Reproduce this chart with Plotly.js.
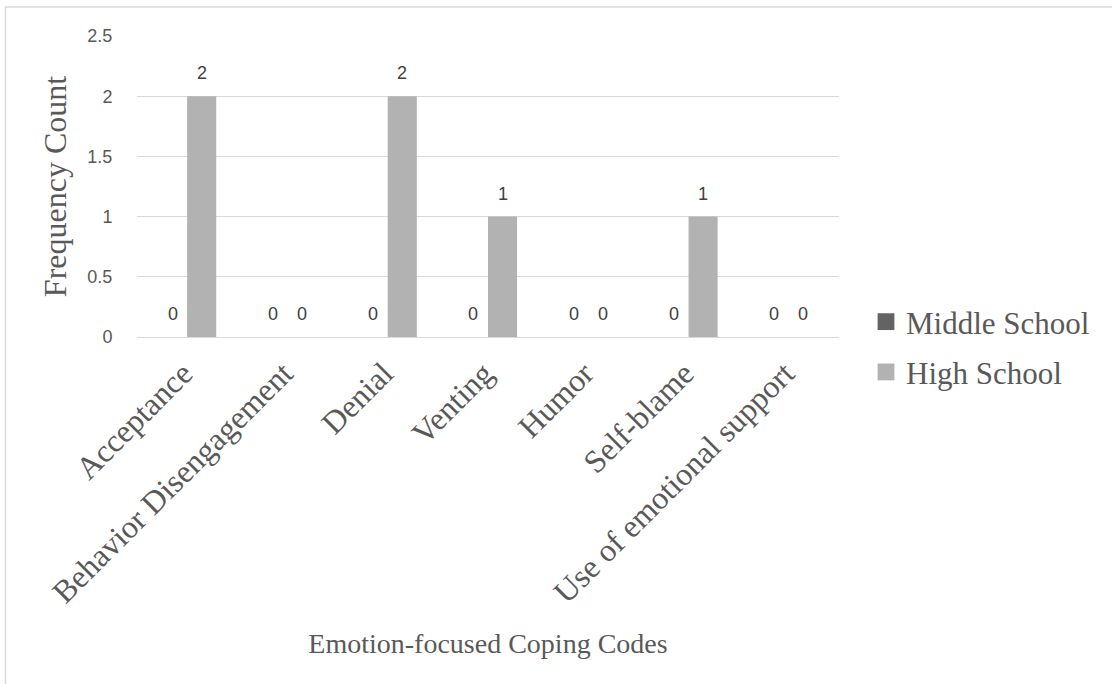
<!DOCTYPE html>
<html>
<head>
<meta charset="utf-8">
<script src="https://cdn.plot.ly/plotly-3.0.1.min.js"></script>
<style>
  html, body { margin: 0; padding: 0; background: #fff; }
  #chart { width: 1112px; height: 684px; }
</style>
</head>
<body>
<div id="chart"></div>
<script>
// Coping codes and counts per school level
const categories = [
  "Acceptance",
  "Behavior Disengagement",
  "Denial",
  "Venting",
  "Humor",
  "Self-blame",
  "Use of emotional support"
];
const middleSchool = [0, 0, 0, 0, 0, 0, 0];
const highSchool   = [2, 0, 2, 1, 0, 1, 0];
const seriesNames  = ["Middle School", "High School"];
const yTicks = [0, 0.5, 1, 1.5, 2, 2.5];

const serif = "'Liberation Serif', 'Times New Roman', serif";
const sans = "'Liberation Sans', Arial, sans-serif";
const textGrey = "#595959";

const L = 137, R = 273, T = 36, B = 347, W = 1112, H = 684;
const plotW = W - L - R, plotH = H - T - B;
const bargap = 0.42;
const halfBar = plotW / categories.length * (1 - bargap) / 4;

const traces = [
  { type: "bar", name: seriesNames[0], x: categories, y: middleSchool,
    legendgroup: "ms", marker: { color: "#636363" }, hoverinfo: "x+y" },
  { type: "bar", name: seriesNames[1], x: categories, y: highSchool,
    legendgroup: "hs", marker: { color: "#b2b2b2" }, hoverinfo: "x+y" }
];

// value labels above each bar
const annotations = [];
[middleSchool, highSchool].forEach((vals, s) => {
  vals.forEach((v, i) => {
    annotations.push({
      x: categories[i], y: v, xref: "x", yref: "y",
      text: String(v), showarrow: false,
      xshift: s === 0 ? -halfBar : halfBar,
      yanchor: "bottom", yshift: 11,
      font: { family: sans, size: 18, color: "#404040" }
    });
  });
});

// chart-area frame (left and top edges visible)
const px2x = p => (p - L) / plotW;
const px2y = p => (H - B - p) / plotH;
const shapes = [{
  type: "rect", xref: "paper", yref: "paper",
  x0: px2x(5.5), x1: px2x(W + 5), y0: px2y(H + 5), y1: px2y(7),
  line: { color: "#d9d9d9", width: 1.5 }, fillcolor: "rgba(0,0,0,0)", layer: "below"
}];

const layout = {
  width: W, height: H,
  margin: { l: L, r: R, t: T, b: B, autoexpand: false },
  paper_bgcolor: "#ffffff", plot_bgcolor: "#ffffff",
  barmode: "group", bargap: bargap, bargroupgap: 0,
  showlegend: true,
  legend: {
    x: px2x(866), y: px2y(295), xanchor: "left", yanchor: "top",
    font: { family: serif, size: 31, color: textGrey },
    itemwidth: 30, tracegroupgap: 7, bgcolor: "rgba(0,0,0,0)"
  },
  xaxis: {
    type: "category",
    tickangle: -45,
    tickfont: { family: serif, size: 32, color: textGrey },
    ticks: "outside", ticklen: 4, tickcolor: "rgba(0,0,0,0)",
    ticklabelshift: -4,
    showgrid: false, showline: false, zeroline: false,
    title: { text: "Emotion-focused Coping Codes", standoff: 24,
             font: { family: serif, size: 28, color: textGrey } },
    automargin: false, fixedrange: true
  },
  yaxis: {
    range: [0, 2.5],
    tickvals: yTicks,
    ticktext: yTicks.map(String),
    tickfont: { family: sans, size: 18, color: textGrey },
    ticks: "outside", ticklen: 20, tickcolor: "rgba(0,0,0,0)",
    showgrid: true, gridcolor: "#d9d9d9", gridwidth: 1,
    zeroline: true, zerolinecolor: "#d9d9d9", zerolinewidth: 1,
    showline: false,
    title: { text: "Frequency Count", standoff: 11,
             font: { family: serif, size: 32, color: textGrey } },
    automargin: false, fixedrange: true
  },
  annotations: annotations,
  shapes: shapes
};

Plotly.newPlot("chart", traces, layout, { displayModeBar: false, staticPlot: true })
  .then(gd => {
    // slightly larger legend swatches
    gd.querySelectorAll(".legendpoints path").forEach(p => {
      const t = p.getAttribute("transform") || "";
      p.setAttribute("transform", (t + " scale(1.4)").trim());
    });
  });
</script>
</body>
</html>
